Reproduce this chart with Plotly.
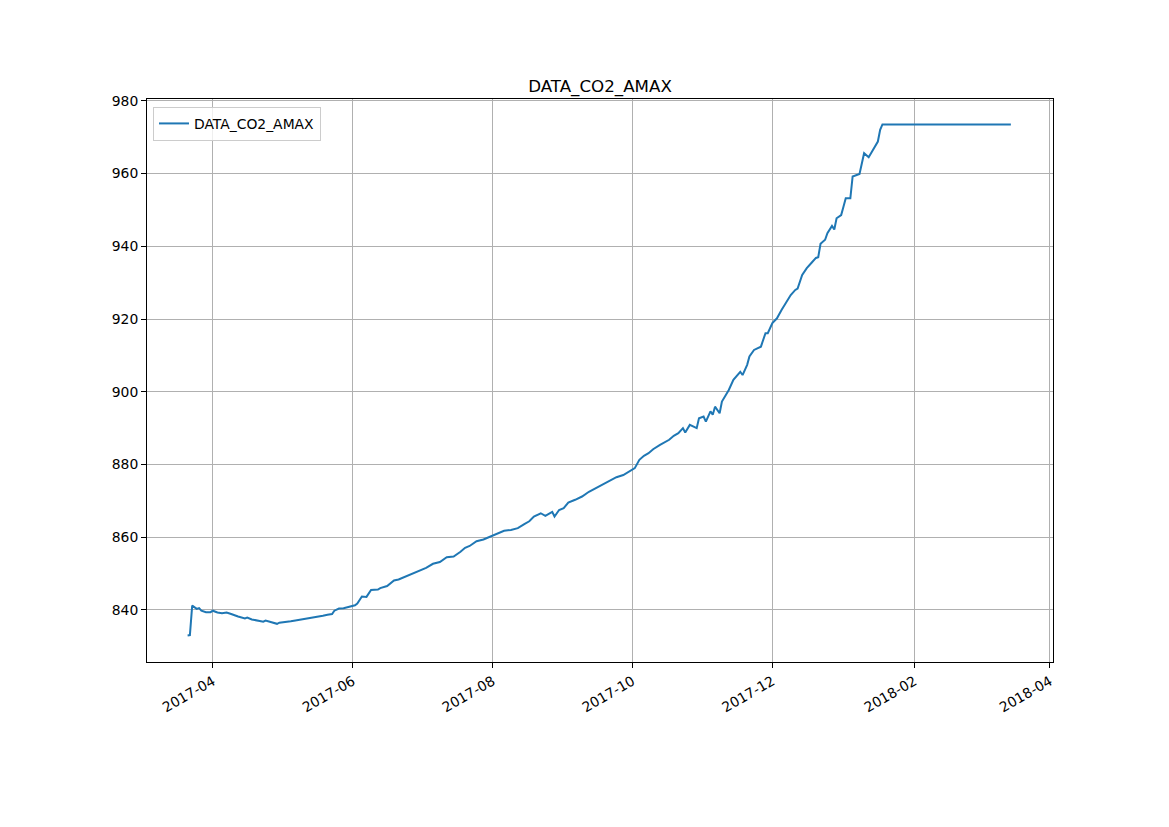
import plotly.graph_objects as go


# ---------------------------------------------------
# Data
# ---------------------------------------------------

dates = [
    "2017-03-21", "2017-03-22", "2017-03-23", "2017-03-24", "2017-03-25",
    "2017-03-26", "2017-03-27", "2017-03-29", "2017-03-31", "2017-04-01",
    "2017-04-03", "2017-04-05", "2017-04-07", "2017-04-09", "2017-04-10",
    "2017-04-12", "2017-04-15", "2017-04-16", "2017-04-18", "2017-04-20",
    "2017-04-23", "2017-04-24", "2017-04-26", "2017-04-29", "2017-04-30",
    "2017-05-02", "2017-05-05", "2017-05-07", "2017-05-09", "2017-05-11",
    "2017-05-13", "2017-05-15", "2017-05-17", "2017-05-19", "2017-05-21",
    "2017-05-23", "2017-05-24", "2017-05-26", "2017-05-28", "2017-05-30",
    "2017-06-02", "2017-06-03", "2017-06-05", "2017-06-07", "2017-06-09",
    "2017-06-12", "2017-06-13", "2017-06-16", "2017-06-19", "2017-06-21",
    "2017-06-24", "2017-06-27", "2017-06-30", "2017-07-03", "2017-07-06",
    "2017-07-09", "2017-07-12", "2017-07-15", "2017-07-18", "2017-07-20",
    "2017-07-22", "2017-07-25", "2017-07-28", "2017-07-31", "2017-08-03",
    "2017-08-06", "2017-08-09", "2017-08-12", "2017-08-15", "2017-08-17",
    "2017-08-19", "2017-08-22", "2017-08-24", "2017-08-27", "2017-08-28",
    "2017-08-30", "2017-09-01", "2017-09-03", "2017-09-06", "2017-09-09",
    "2017-09-12", "2017-09-15", "2017-09-18", "2017-09-21", "2017-09-24",
    "2017-09-27", "2017-09-30", "2017-10-02", "2017-10-04", "2017-10-06",
    "2017-10-08", "2017-10-10", "2017-10-13", "2017-10-15", "2017-10-17",
    "2017-10-19", "2017-10-21", "2017-10-23", "2017-10-24", "2017-10-26",
    "2017-10-29", "2017-10-30", "2017-11-01", "2017-11-02", "2017-11-04",
    "2017-11-05", "2017-11-06", "2017-11-08", "2017-11-09", "2017-11-12",
    "2017-11-14", "2017-11-17", "2017-11-18", "2017-11-20", "2017-11-21",
    "2017-11-23", "2017-11-26", "2017-11-28", "2017-11-29", "2017-12-01",
    "2017-12-03", "2017-12-05", "2017-12-07", "2017-12-09", "2017-12-11",
    "2017-12-12", "2017-12-14", "2017-12-16", "2017-12-18", "2017-12-20",
    "2017-12-21", "2017-12-22", "2017-12-24", "2017-12-25", "2017-12-27",
    "2017-12-28", "2017-12-29", "2017-12-31", "2018-01-01", "2018-01-02",
    "2018-01-04", "2018-01-05", "2018-01-08", "2018-01-09", "2018-01-10",
    "2018-01-12", "2018-01-15", "2018-01-16", "2018-01-17", "2018-01-18",
    "2018-03-15",
]

co2_amax = [
    833.0, 833.1, 841.2, 840.7, 840.3,
    840.5, 839.8, 839.4, 839.4, 839.8,
    839.3, 839.1, 839.3, 838.9, 838.6,
    838.2, 837.7, 837.9, 837.4, 837.1,
    836.8, 837.1, 836.8, 836.2, 836.5,
    836.6, 836.9, 837.1, 837.3, 837.4,
    837.6, 837.9, 838.1, 838.4, 838.7,
    838.9, 839.8, 840.4, 840.5, 840.9,
    841.3, 841.8, 843.7, 843.6, 845.5,
    845.6, 846.0, 846.6, 848.1, 848.4,
    849.2, 850.1, 851.0, 851.6, 852.7,
    853.2, 854.5, 854.7, 856.0, 857.1,
    857.6, 858.9, 859.4, 860.2, 861.1,
    861.8, 862.0, 862.5, 863.7, 864.4,
    865.7, 866.6, 865.9, 867.0, 865.7,
    867.5, 868.0, 869.5, 870.3, 871.2,
    872.5, 873.5, 874.4, 875.3, 876.5,
    877.1, 878.3, 879.0, 881.3, 882.4,
    883.1, 884.2, 885.4, 886.0, 886.8,
    887.9, 888.6, 890.0, 888.8, 890.9,
    890.0, 892.7, 893.2, 891.8, 894.6,
    893.7, 895.9, 894.1, 897.3, 900.5,
    903.3, 905.5, 904.6, 907.4, 909.7,
    911.5, 912.4, 916.1, 916.1, 918.9,
    920.2, 922.5, 924.4, 926.6, 928.0,
    928.4, 932.1, 934.0, 935.4, 936.8,
    937.0, 940.7, 941.8, 943.6, 945.6,
    944.6, 947.7, 948.6, 950.9, 953.2,
    953.2, 959.2, 959.9, 962.9, 965.6,
    964.5, 967.9, 968.8, 972.0, 973.5,
    973.5,
]

x_ticks = ["2017-04-01", "2017-06-01", "2017-08-01", "2017-10-01",
           "2017-12-01", "2018-02-01", "2018-04-01"]
x_tick_labels = ["2017-04", "2017-06", "2017-08", "2017-10",
                 "2017-12", "2018-02", "2018-04"]
y_ticks = [840, 860, 880, 900, 920, 940, 960, 980]


# ---------------------------------------------------
# Figure
# ---------------------------------------------------

fig = go.Figure()

fig.add_trace(go.Scatter(
    x=dates,
    y=co2_amax,
    mode="lines",
    name="DATA_CO2_AMAX",
    line=dict(color="#1f77b4", width=2)
))

axis_style = dict(
    showline=True,
    linecolor="black",
    linewidth=1,
    mirror=True,
    ticks="outside",
    ticklen=5,
    tickwidth=1,
    tickcolor="black",
    showgrid=True,
    gridcolor="#b0b0b0",
    gridwidth=1,
    zeroline=False,
    tickfont=dict(size=13.9, color="black")
)

fig.update_xaxes(
    **axis_style,
    type="date",
    range=["2017-03-03 07:00", "2018-04-02 09:00"],
    tickvals=x_ticks,
    ticktext=x_tick_labels,
    tickangle=-30
)

fig.update_yaxes(
    **axis_style,
    range=[825.7, 980.5],
    tickvals=y_ticks
)

# page body has an 8px margin, so the figure is shrunk and margins shifted
fig.update_layout(
    width=1161,
    height=819,
    margin=dict(l=139, r=116, t=91, b=165),
    paper_bgcolor="white",
    plot_bgcolor="white",
    font=dict(family="DejaVu Sans", color="black"),
    title=dict(
        text="DATA_CO2_AMAX",
        x=0.5,
        xanchor="center",
        xref="paper",
        y=1 - 78 / 819,
        yref="container",
        yanchor="middle",
        font=dict(size=16.7, color="black")
    ),
    showlegend=True,
    legend=dict(
        x=0.0066,
        y=0.986,
        xanchor="left",
        yanchor="top",
        bgcolor="rgba(255,255,255,0.8)",
        bordercolor="#cccccc",
        borderwidth=1,
        font=dict(size=13.9, color="black")
    )
)

fig.write_html("out.html")
